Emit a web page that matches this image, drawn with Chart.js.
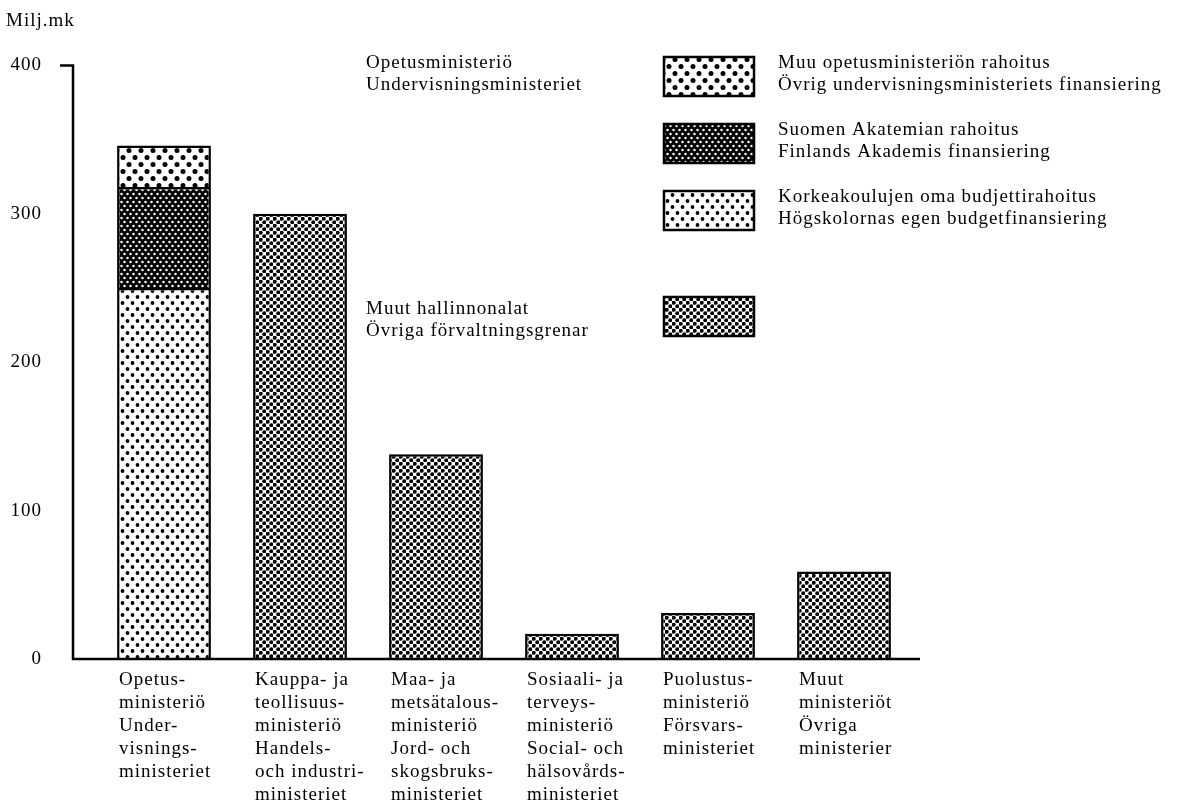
<!DOCTYPE html>
<html>
<head>
<meta charset="utf-8">
<script src="https://cdn.jsdelivr.net/npm/chart.js@4/dist/chart.umd.min.js"></script>
<style>
  body { margin: 0; background: #fff; }
  #wrap { width: 1182px; height: 808px; }
</style>
</head>
<body>
<div id="wrap"><canvas id="chart"></canvas></div>
<script>
// ministries (x categories), one line per array entry
const categories = [
  ['Opetus-', 'ministeriö', 'Under-', 'visnings-', 'ministeriet'],
  ['Kauppa- ja', 'teollisuus-', 'ministeriö', 'Handels-', 'och industri-', 'ministeriet'],
  ['Maa- ja', 'metsätalous-', 'ministeriö', 'Jord- och', 'skogsbruks-', 'ministeriet'],
  ['Sosiaali- ja', 'terveys-', 'ministeriö', 'Social- och', 'hälsovårds-', 'ministeriet'],
  ['Puolustus-', 'ministeriö', 'Försvars-', 'ministeriet'],
  ['Muut', 'ministeriöt', 'Övriga', 'ministerier']
];

// Milj.mk
const budjettirahoitus = [250, null, null, null, null, null];
const akatemianRahoitus = [68, null, null, null, null, null];
const muuOpetusRahoitus = [28, null, null, null, null, null];
const muutHallinnonalat = [null, 300, 138, 17, 31, 59];

const yTicks = [0, 100, 200, 300, 400];
const yUnit = 'Milj.mk';

const labelBudjetti = ['Korkeakoulujen oma budjettirahoitus', 'Högskolornas egen budgetfinansiering'];
const labelAkatemia = ['Suomen Akatemian rahoitus', 'Finlands Akademis finansiering'];
const labelMuuOpetus = ['Muu opetusministeriön rahoitus', 'Övrig undervisningsministeriets finansiering'];
const labelMuut = ['', ''];
const groupOpetus = ['Opetusministeriö', 'Undervisningsministeriet'];
const groupMuut = ['Muut hallinnonalat', 'Övriga förvaltningsgrenar'];

const FAMILY = '"Liberation Serif", "DejaVu Serif", serif';

// dotted fills like the printed screens
function dots(w, h, r, ink, paper) {
  const c = document.createElement('canvas');
  c.width = w; c.height = h;
  const g = c.getContext('2d');
  g.fillStyle = paper;
  g.fillRect(0, 0, w, h);
  g.fillStyle = ink;
  [[w / 4, h / 4], [w * 3 / 4, h * 3 / 4]].forEach(([px, py]) => {
    g.beginPath();
    g.arc(px, py, r, 0, Math.PI * 2);
    g.fill();
  });
  return g.createPattern(c, 'repeat');
}

const fillBudjetti = dots(10, 12, 1.9, '#000', '#fff');
const fillAkatemia = dots(6, 8, 1.25, '#fff', '#000');
const fillMuuOpetus = dots(12, 14, 2.5, '#000', '#fff');
const fillMuut = dots(7, 7, 2.0, '#000', '#fff');

const barStyle = { borderColor: '#000', borderWidth: 2.5, categoryPercentage: 1, barPercentage: 0.69 };

const extras = {
  id: 'extras',
  beforeDraw(chart) {
    chart.ctx.letterSpacing = '1px';
  },
  afterDraw(chart) {
    const { ctx, chartArea, scales } = chart;
    const y = scales.y;
    const ax = chartArea.left - 23;
    const y0 = y.getPixelForValue(yTicks[0]);
    const yTop = y.getPixelForValue(yTicks[yTicks.length - 1]);
    ctx.save();
    ctx.letterSpacing = '1px';
    ctx.strokeStyle = '#000';
    ctx.lineWidth = 2.5;
    ctx.beginPath();
    ctx.moveTo(ax - 13, yTop);
    ctx.lineTo(ax, yTop);
    ctx.lineTo(ax, y0);
    ctx.lineTo(chartArea.right + 8, y0);
    ctx.stroke();

    ctx.fillStyle = '#000';
    ctx.textBaseline = 'middle';
    ctx.textAlign = 'left';
    ctx.font = '19px ' + FAMILY;
    ctx.fillText(yUnit, 6, 21);

    const ds = chart.data.datasets;
    const boxes = [[2, 57], [1, 124], [0, 191], [3, 297]];
    boxes.forEach(([i, top]) => {
      ctx.fillStyle = ds[i].backgroundColor;
      ctx.fillRect(664, top, 90, 39);
      ctx.strokeRect(664, top, 90, 39);
      ctx.fillStyle = '#000';
      const lines = ds[i].lines;
      ctx.fillText(lines[0], 778, top + 6);
      ctx.fillText(lines[1], 778, top + 28);
    });
    ctx.fillText(groupOpetus[0], 366, 63);
    ctx.fillText(groupOpetus[1], 366, 85);
    ctx.fillText(groupMuut[0], 366, 309);
    ctx.fillText(groupMuut[1], 366, 331);
    ctx.restore();
  }
};

new Chart(document.getElementById('chart'), {
  type: 'bar',
  data: {
    labels: categories,
    datasets: [
      { label: labelBudjetti.join(' '), lines: labelBudjetti, data: budjettirahoitus, backgroundColor: fillBudjetti, ...barStyle },
      { label: labelAkatemia.join(' '), lines: labelAkatemia, data: akatemianRahoitus, backgroundColor: fillAkatemia, ...barStyle },
      { label: labelMuuOpetus.join(' '), lines: labelMuuOpetus, data: muuOpetusRahoitus, backgroundColor: fillMuuOpetus, ...barStyle },
      { label: groupMuut.join(' '), lines: labelMuut, data: muutHallinnonalat, backgroundColor: fillMuut, ...barStyle }
    ]
  },
  options: {
    responsive: true,
    maintainAspectRatio: false,
    animation: false,
    layout: { padding: { left: 0, top: 60, right: 270, bottom: 0 } },
    plugins: { legend: { display: false }, tooltip: { enabled: false } },
    scales: {
      x: {
        stacked: true,
        grid: { display: false, drawTicks: false },
        border: { display: false },
        afterFit: s => { s.height = 149; },
        ticks: {
          autoSkip: false, maxRotation: 0, align: 'start', labelOffset: -45, padding: 9,
          color: '#000', font: { family: FAMILY, size: 19, lineHeight: 1.22 }
        }
      },
      y: {
        stacked: true,
        min: 0,
        max: 400,
        grid: { display: false, drawTicks: false },
        border: { display: false },
        afterFit: s => { s.width = 96; },
        afterBuildTicks: s => { s.ticks = yTicks.map(v => ({ value: v })); },
        ticks: { padding: 54, color: '#000', font: { family: FAMILY, size: 19 } }
      }
    }
  },
  plugins: [extras]
});
</script>
</body>
</html>
